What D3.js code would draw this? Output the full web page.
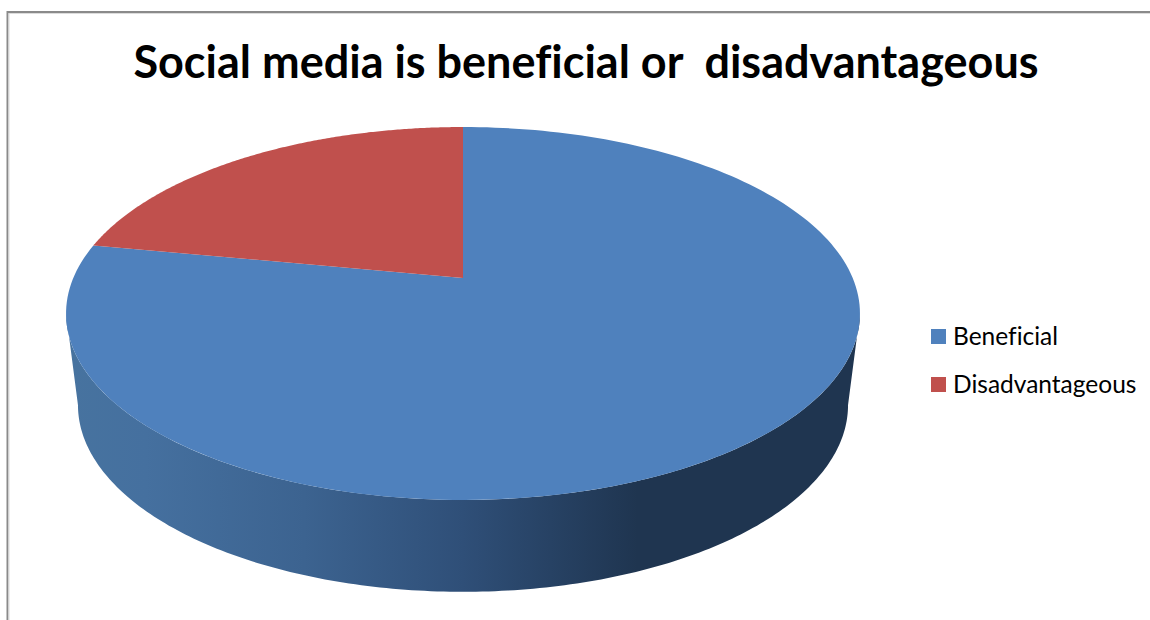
<!DOCTYPE html>
<html>
<head>
<meta charset="utf-8">
<script src="https://cdn.jsdelivr.net/npm/d3@7/dist/d3.min.js"></script>
<style>
  html, body { margin: 0; padding: 0; background: #fff; overflow: hidden; }
  text { font-family: Lato, "Open Sans", sans-serif; fill: #000; font-variant-ligatures: none; }
</style>
</head>
<body>
<div class="chart"></div>
<script>
// chart data
const categories = ["Beneficial", "Disadvantageous"];
const values = [78, 22];
const colors = ["#4f81bd", "#c0504d"];
const titleText = "Social media is beneficial or  disadvantageous";

const width = 1150, height = 620;

const svg = d3.select(".chart")
    .append("svg")
    .attr("width", width)
    .attr("height", height)
    .style("display", "block");

// chart frame, only top and left show in the crop
svg.append("path")
    .attr("d", "M7.5,620V12H1150")
    .attr("fill", "none")
    .attr("stroke", "#8a8a8a")
    .attr("stroke-width", 2);
svg.append("path")
    .attr("d", "M9,620V13.5H1150")
    .attr("fill", "none")
    .attr("stroke", "#dcdcdc")
    .attr("stroke-width", 1);

svg.append("text")
    .attr("x", 586)
    .attr("y", 78)
    .attr("text-anchor", "middle")
    .attr("font-size", 45)
    .attr("font-weight", 700)
    .style("white-space", "pre")
    .text(titleText);

// perspective of the pie disc, k is how much the far side shrinks
const k = 0.1903;
const top3d = {cx: 463, cy: 278, a: 179.7, b: 389.7};
const bottom3d = {cx: 463, cy: 369.5, a: 180, b: 378};

// angle is clockwise from 12 o'clock
function project(disc, angle) {
    const u = Math.sin(angle), v = Math.cos(angle);
    const w = 1 + k * v;
    return [disc.cx + disc.b * u / w, disc.cy - disc.a * v / w];
}

const line = d3.line();

function arcPoints(disc, a0, a1) {
    return d3.range(0, 201).map(i => project(disc, a0 + (a1 - a0) * i / 200));
}

// side wall, horizontal shading
const grad = svg.append("defs").append("linearGradient")
    .attr("id", "wall")
    .attr("gradientUnits", "userSpaceOnUse")
    .attr("x1", 66).attr("x2", 860).attr("y1", 0).attr("y2", 0);
[[0, "#47739f"], [0.1, "#45709f"], [0.3, "#3c6390"], [0.5, "#2f4f78"], [0.72, "#1f3550"], [1, "#1f3550"]]
    .forEach(s => grad.append("stop").attr("offset", s[0]).attr("stop-color", s[1]));

// lower half between the two silhouette points of the ellipse
const sideAngle = Math.PI - Math.asin(Math.sqrt(1 - k * k));
const wallTop = arcPoints(top3d, sideAngle, 2 * Math.PI - sideAngle);
const wallBottom = arcPoints(bottom3d, sideAngle, 2 * Math.PI - sideAngle).reverse();

svg.append("path")
    .attr("d", line(wallTop.concat(wallBottom)) + "Z")
    .attr("fill", "url(#wall)");

// top face slices from d3.pie
const pie = d3.pie().sort(null).startAngle(0).endAngle(2 * Math.PI);
const slices = pie(values);

svg.selectAll(".slice")
    .data(slices)
    .enter()
    .append("path")
    .attr("class", "slice")
    .attr("d", d => line([[top3d.cx, top3d.cy]].concat(arcPoints(top3d, d.startAngle, d.endAngle))) + "Z")
    .attr("fill", (d, i) => colors[i]);

// legend
const legendY = d3.scalePoint().domain(categories).range([336.5, 384.5]);

const legend = svg.selectAll(".legend")
    .data(categories)
    .enter()
    .append("g")
    .attr("class", "legend")
    .attr("transform", d => "translate(931," + legendY(d) + ")");

legend.append("rect")
    .attr("x", 0)
    .attr("y", -7.5)
    .attr("width", 15)
    .attr("height", 15)
    .attr("fill", (d, i) => colors[i]);

legend.append("text")
    .attr("x", 22)
    .attr("y", 8)
    .attr("font-size", 24.5)
    .text(d => d);
</script>
</body>
</html>
